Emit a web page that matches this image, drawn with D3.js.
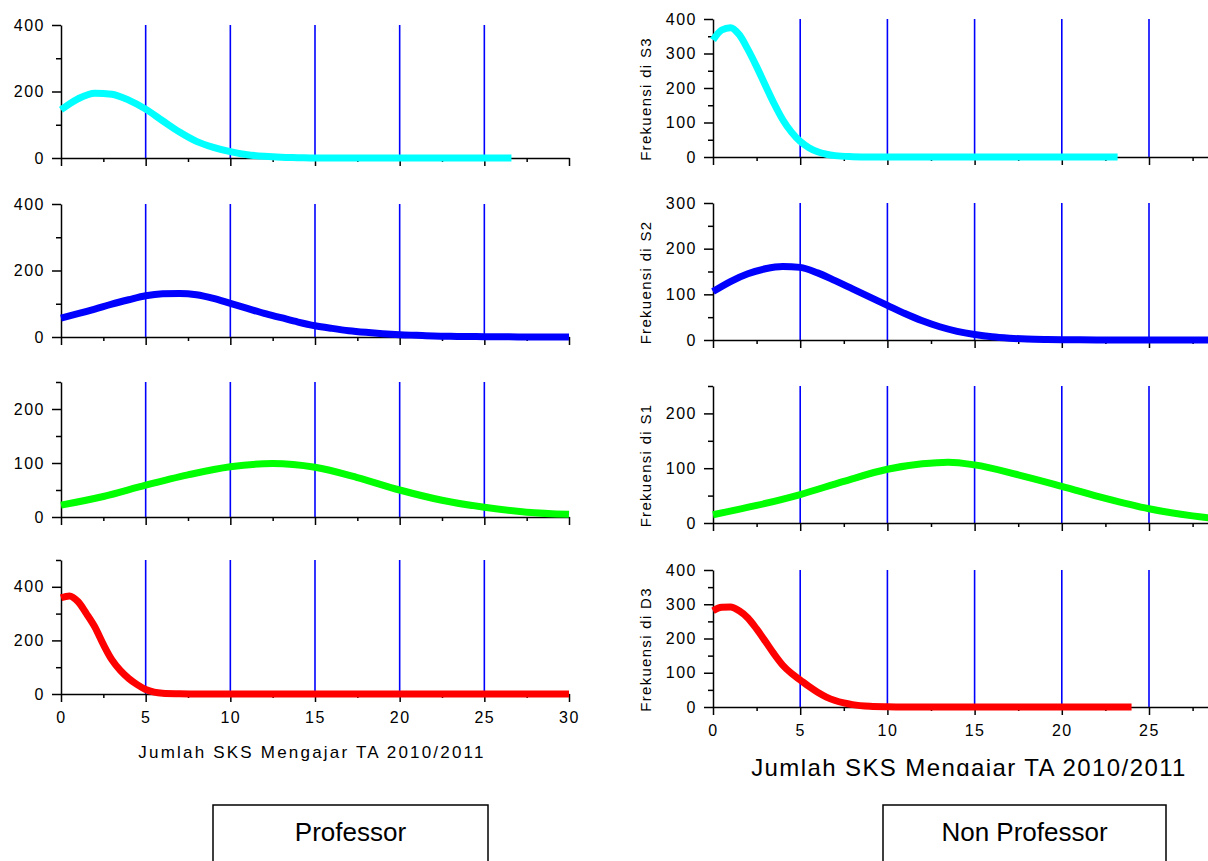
<!DOCTYPE html>
<html><head><meta charset="utf-8">
<script src="https://cdn.jsdelivr.net/npm/d3@7"></script>
<style>
body{margin:0;background:#fff}
svg{display:block}
text{font-family:"Liberation Sans",Arial,sans-serif;fill:#000}
</style>
</head><body>
<svg id="chart" width="1208" height="861"></svg>
<script>
// ---------- data ----------
const xMajorTicks = [0, 5, 10, 15, 20, 25, 30];
const xMinorTicks = [2.5, 7.5, 12.5, 17.5, 22.5, 27.5];
const gridLinesX = [5, 10, 15, 20, 25];
const xAxisTitle = "Jumlah SKS Mengajar TA 2010/2011";
const groupLabels = ["Professor", "Non Professor"];
const rightYLabels = ["Frekuensi di S3", "Frekuensi di S2", "Frekuensi di S1", "Frekuensi di D3"];

// Professor
const profS3_x = [0, 1, 2, 3, 4, 5, 6, 7, 8, 9, 10, 11, 12, 13, 14, 15, 20, 26.6];
const profS3_y = [145, 178, 195, 192, 174, 147, 112, 78, 50, 32, 19, 10, 5, 2, 1, 0, 0, 0];
const profS2_x = [0, 1, 2, 3, 4, 5, 6, 7, 8, 9, 10, 11, 12, 13, 14, 15, 16, 17, 18, 19, 20, 21, 22, 23, 24, 25, 26, 27, 28, 29, 30];
const profS2_y = [57, 70, 84, 99, 112, 124, 130, 131, 127, 116, 101, 86, 71, 58, 45, 34, 26, 19, 14, 10, 7, 5, 3, 2, 1.5, 1, 0.5, 0.3, 0.2, 0.1, 0];
const profS1_x = [0, 2.5, 5, 7.5, 10, 12.5, 15, 17.5, 20, 22.5, 25, 27.5, 30];
const profS1_y = [22, 38, 59, 78, 93, 99, 92, 73, 50, 31, 18, 9, 5];
const profD3_x = [0, 0.5, 1, 1.5, 2, 2.5, 3, 3.5, 4, 4.5, 5, 5.5, 6, 7, 8, 15, 30];
const profD3_y = [359, 366, 345, 300, 250, 185, 128, 88, 58, 35, 17, 7, 3, 1, 0, 0, 0];

// Non Professor
const nonS3_x = [0, 0.5, 1, 1.5, 2, 2.5, 3, 3.5, 4, 4.5, 5, 5.5, 6, 6.5, 7, 8, 9, 15, 23.2];
const nonS3_y = [339, 368, 375, 355, 312, 262, 208, 155, 108, 72, 45, 27, 15, 8, 4, 1, 0, 0, 0];
const nonS2_x = [0, 1, 2, 3, 4, 5, 6, 7, 8, 9, 10, 11, 12, 13, 14, 15, 16, 17, 18, 19, 20, 22, 25, 30];
const nonS2_y = [106, 128, 145, 156, 161, 159, 147, 130, 112, 94, 76, 58, 42, 29, 19, 12, 7, 4, 2, 1, 0.5, 0.2, 0, 0];
const nonS1_x = [0, 2.5, 5, 7.5, 10, 12, 13.5, 15, 17.5, 20, 22.5, 25, 27.5, 30];
const nonS1_y = [15, 32, 52, 76, 98, 108, 111, 106, 88, 67, 45, 26, 13, 5];
const nonD3_x = [0, 0.5, 1, 1.5, 2, 2.5, 3, 3.5, 4, 4.5, 5, 5.5, 6, 6.5, 7, 7.5, 8, 9, 10, 11, 15, 24];
const nonD3_y = [281, 291, 292, 281, 260, 228, 192, 155, 122, 98, 79, 60, 43, 29, 19, 12, 7, 2, 0.5, 0, 0, 0];

// ---------- layout ----------
const W = 1208;
const svg = d3.select("#chart");
svg.append("rect").attr("width", W).attr("height", 861).attr("fill", "#fff");

const columns = [
  {
    x0: 61, x1: 569, yLabels: null, titleSize: 17, titleSpacing: 2.2, titleY: 758, titleX: 312, clip: null,
    panels: [
      {xs: profS3_x, ys: profS3_y, color: "#00ffff", yMax: 400, major: [0, 200, 400], minor: [100, 300], top: 25, bottom: 158},
      {xs: profS2_x, ys: profS2_y, color: "#0000ff", yMax: 400, major: [0, 200, 400], minor: [100, 300], top: 204, bottom: 337},
      {xs: profS1_x, ys: profS1_y, color: "#00ff00", yMax: 250, major: [0, 100, 200], minor: [50, 150, 250], top: 382, bottom: 517},
      {xs: profD3_x, ys: profD3_y, color: "#ff0000", yMax: 500, major: [0, 200, 400], minor: [100, 300, 500], top: 560, bottom: 694}
    ]
  },
  {
    x0: 713, x1: 713 + 30 * 17.44, yLabels: rightYLabels, titleSize: 24, titleSpacing: 1.4, titleY: 776, titleX: 969, clip: 776,
    panels: [
      {xs: nonS3_x, ys: nonS3_y, color: "#00ffff", yMax: 400, major: [0, 100, 200, 300, 400], minor: [50, 150, 250, 350], top: 19, bottom: 157},
      {xs: nonS2_x, ys: nonS2_y, color: "#0000ff", yMax: 300, major: [0, 100, 200, 300], minor: [50, 150, 250], top: 203, bottom: 340},
      {xs: nonS1_x, ys: nonS1_y, color: "#00ff00", yMax: 250, major: [0, 100, 200], minor: [50, 150, 250], top: 386, bottom: 523},
      {xs: nonD3_x, ys: nonD3_y, color: "#ff0000", yMax: 400, major: [0, 100, 200, 300, 400], minor: [50, 150, 250, 350], top: 570, bottom: 707}
    ]
  }
];

function styleAxis(g) {
  g.selectAll("path.domain").attr("stroke", "#000").attr("stroke-width", 1.5);
  g.selectAll(".tick line").attr("stroke", "#000").attr("stroke-width", 1.5);
  g.selectAll(".tick text").attr("font-size", 16).attr("letter-spacing", "1.5px")
    .attr("font-family", "'Liberation Sans', Arial, sans-serif").attr("fill", "#111");
}

columns.forEach((col, ci) => {
  const x = d3.scaleLinear().domain([0, 30]).range([col.x0, col.x1]);
  const visMajor = xMajorTicks.filter(d => x(d) <= W - 2);
  const visMinor = xMinorTicks.filter(d => x(d) <= W - 2);
  col.panels.forEach((p, pi) => {
    const y = d3.scaleLinear().domain([0, p.yMax]).range([p.bottom, p.top]);
    const g = svg.append("g");
    const last = pi === col.panels.length - 1;

    // vertical blue lines
    g.selectAll("line.grid").data(gridLinesX).join("line")
      .attr("x1", d => x(d)).attr("x2", d => x(d))
      .attr("y1", y(p.yMax)).attr("y2", y(0))
      .attr("stroke", "#0000ff").attr("stroke-width", 1.6);

    // x axis
    const xa = g.append("g").attr("transform", `translate(0,${y(0)})`)
      .call(d3.axisBottom(x).tickValues(visMajor).tickSize(8).tickSizeOuter(0).tickPadding(10)
        .tickFormat(last ? d3.format("d") : () => ""));
    styleAxis(xa);
    const xm = g.append("g").attr("transform", `translate(0,${y(0)})`)
      .call(d3.axisBottom(x).tickValues(visMinor).tickSize(4).tickSizeOuter(0).tickFormat(() => ""));
    styleAxis(xm);
    xm.select("path.domain").remove();

    // y axis
    const ya = g.append("g").attr("transform", `translate(${col.x0},0)`)
      .call(d3.axisLeft(y).tickValues(p.major).tickSize(9).tickSizeOuter(0).tickPadding(7).tickFormat(d3.format("d")));
    styleAxis(ya);
    const ym = g.append("g").attr("transform", `translate(${col.x0},0)`)
      .call(d3.axisLeft(y).tickValues(p.minor).tickSize(5).tickSizeOuter(0).tickFormat(() => ""));
    styleAxis(ym);
    ym.select("path.domain").remove();

    // curve
    const pts = p.xs.map((v, i) => [v, p.ys[i]]);
    g.append("path").datum(pts)
      .attr("fill", "none").attr("stroke", p.color).attr("stroke-width", 7)
      .attr("stroke-linejoin", "round")
      .attr("d", d3.line().x(d => x(d[0])).y(d => y(Math.max(0, d[1]))).curve(d3.curveMonotoneX));

    // right y label
    if (col.yLabels) {
      const cy = (p.top + p.bottom) / 2 + 11;
      g.append("text")
        .attr("transform", `translate(651,${cy}) rotate(-90)`)
        .attr("text-anchor", "middle")
        .attr("font-size", 15).attr("letter-spacing", "1.3px")
        .text(col.yLabels[pi]);
    }
  });

  // axis title
  let tg = svg.append("g");
  if (col.clip) {
    svg.append("clipPath").attr("id", "clipT" + ci).append("rect")
      .attr("x", 0).attr("y", 0).attr("width", W).attr("height", col.clip);
    tg.attr("clip-path", `url(#clipT${ci})`);
  }
  tg.append("text").attr("x", col.titleX).attr("y", col.titleY)
    .attr("text-anchor", "middle").attr("font-size", col.titleSize)
    .attr("letter-spacing", col.titleSpacing + "px").text(xAxisTitle);
});

// group boxes
const boxes = [
  {x0: 213, x1: 488},
  {x0: 883, x1: 1166}
];
boxes.forEach((b, i) => {
  svg.append("rect").attr("x", b.x0).attr("y", 805).attr("width", b.x1 - b.x0).attr("height", 80)
    .attr("fill", "none").attr("stroke", "#000").attr("stroke-width", 1.5);
  svg.append("text").attr("x", (b.x0 + b.x1) / 2).attr("y", 841)
    .attr("text-anchor", "middle").attr("font-size", 26).text(groupLabels[i]);
});
</script>
</body></html>
